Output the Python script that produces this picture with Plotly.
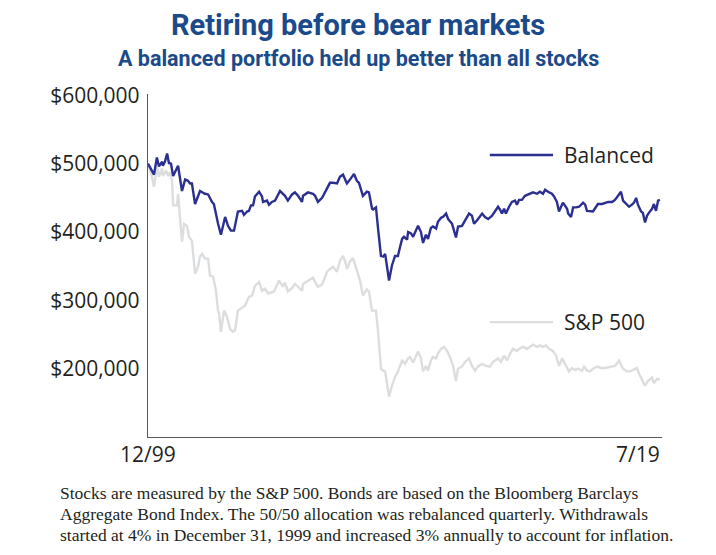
import plotly.graph_objects as go

# ---- data (time in decimal years, value in dollars) ----
bal_years = [1999.92, 2000.07, 2000.15, 2000.26, 2000.34, 2000.46, 2000.49, 2000.57, 2000.65, 2000.72,
             2000.80, 2000.88, 2001.07, 2001.22, 2001.34, 2001.45, 2001.53, 2001.60, 2001.72, 2001.91,
             2002.10, 2002.22, 2002.29, 2002.37, 2002.44, 2002.56, 2002.60, 2002.71, 2002.87, 2002.98,
             2003.09, 2003.21, 2003.36, 2003.52, 2003.59, 2003.71, 2003.78, 2003.86, 2003.94, 2004.01,
             2004.17, 2004.28, 2004.32, 2004.47, 2004.55, 2004.66, 2004.78, 2004.97, 2005.08, 2005.16,
             2005.27, 2005.43, 2005.54, 2005.66, 2005.81, 2005.85, 2006.04, 2006.23, 2006.31, 2006.42,
             2006.58, 2006.77, 2006.88, 2007.00, 2007.15, 2007.26, 2007.38, 2007.46, 2007.53, 2007.65,
             2007.80, 2007.91, 2007.99, 2008.14, 2008.29, 2008.37, 2008.49, 2008.53, 2008.64, 2008.72,
             2008.83, 2008.91, 2008.99, 2009.14, 2009.25, 2009.37, 2009.48, 2009.56, 2009.64, 2009.71,
             2009.83, 2009.87, 2009.98, 2010.06, 2010.25, 2010.36, 2010.44, 2010.55, 2010.63, 2010.74,
             2010.82, 2010.94, 2011.01, 2011.13, 2011.20, 2011.32, 2011.40, 2011.55, 2011.62, 2011.70,
             2011.78, 2011.93, 2012.05, 2012.20, 2012.31, 2012.39, 2012.50, 2012.62, 2012.70, 2012.81,
             2012.93, 2013.08, 2013.19, 2013.31, 2013.38, 2013.46, 2013.54, 2013.61, 2013.73, 2013.84,
             2013.96, 2014.03, 2014.11, 2014.22, 2014.34, 2014.45, 2014.53, 2014.65, 2014.80, 2014.91,
             2015.03, 2015.11, 2015.22, 2015.37, 2015.45, 2015.56, 2015.64, 2015.76, 2015.79, 2015.95,
             2015.99, 2016.10, 2016.18, 2016.29, 2016.41, 2016.56, 2016.64, 2016.71, 2016.83, 2016.94,
             2017.06, 2017.13, 2017.29, 2017.40, 2017.52, 2017.67, 2017.78, 2017.90, 2018.01, 2018.09,
             2018.24, 2018.32, 2018.43, 2018.51, 2018.59, 2018.66, 2018.78, 2018.85, 2018.93, 2019.01,
             2019.08, 2019.20, 2019.27, 2019.35, 2019.43, 2019.50]
bal_values_k = [500, 488, 484, 509, 496, 503, 497, 503, 515, 501,
                500, 482, 497, 460, 477, 475, 471, 471, 441, 460,
                456, 455, 449, 444, 441, 415, 412, 396, 422, 409,
                402, 402, 430, 431, 425, 430, 431, 439, 439, 452,
                459, 452, 444, 446, 440, 444, 446, 460, 456, 453,
                446, 455, 458, 453, 444, 453, 458, 456, 453, 444,
                450, 465, 472, 472, 471, 481, 484, 477, 471, 477,
                485, 475, 472, 453, 459, 458, 434, 433, 436, 405,
                365, 364, 368, 329, 351, 365, 365, 378, 390, 393,
                389, 400, 398, 393, 409, 400, 384, 396, 390, 406,
                408, 405, 415, 421, 422, 427, 419, 412, 402, 392,
                408, 409, 417, 427, 424, 412, 417, 424, 427, 422,
                419, 424, 431, 437, 433, 427, 434, 427, 437, 444,
                446, 440, 447, 447, 453, 455, 456, 458, 456, 459,
                456, 462, 459, 456, 452, 444, 430, 441, 443, 434,
                427, 422, 436, 436, 437, 443, 440, 431, 430, 430,
                437, 441, 441, 443, 444, 444, 447, 453, 459, 446,
                439, 437, 440, 443, 450, 440, 430, 428, 414, 424,
                428, 434, 441, 431, 446, 447]

sp_years = [1999.92, 2000.07, 2000.15, 2000.26, 2000.34, 2000.46, 2000.49, 2000.61, 2000.69, 2000.76,
            2000.84, 2000.88, 2001.03, 2001.07, 2001.22, 2001.30, 2001.41, 2001.49, 2001.60, 2001.72,
            2001.83, 2001.91, 2001.99, 2002.10, 2002.22, 2002.29, 2002.41, 2002.52, 2002.60, 2002.64,
            2002.71, 2002.83, 2002.94, 2003.06, 2003.17, 2003.25, 2003.36, 2003.52, 2003.63, 2003.78,
            2003.90, 2004.01, 2004.17, 2004.28, 2004.39, 2004.51, 2004.62, 2004.74, 2004.93, 2005.08,
            2005.16, 2005.27, 2005.43, 2005.54, 2005.66, 2005.81, 2005.85, 2006.04, 2006.23, 2006.31,
            2006.42, 2006.58, 2006.77, 2006.88, 2007.00, 2007.15, 2007.26, 2007.38, 2007.46, 2007.53,
            2007.65, 2007.76, 2007.91, 2008.03, 2008.14, 2008.29, 2008.37, 2008.49, 2008.64, 2008.72,
            2008.83, 2008.91, 2008.99, 2009.14, 2009.25, 2009.37, 2009.48, 2009.56, 2009.64, 2009.75,
            2009.87, 2009.94, 2010.06, 2010.25, 2010.36, 2010.44, 2010.55, 2010.63, 2010.74, 2010.82,
            2010.94, 2011.01, 2011.13, 2011.24, 2011.36, 2011.47, 2011.59, 2011.70, 2011.78, 2011.93,
            2012.05, 2012.20, 2012.31, 2012.43, 2012.54, 2012.70, 2012.85, 2013.00, 2013.12, 2013.31,
            2013.42, 2013.54, 2013.65, 2013.77, 2013.88, 2014.03, 2014.11, 2014.26, 2014.42, 2014.53,
            2014.65, 2014.80, 2014.91, 2015.03, 2015.14, 2015.26, 2015.41, 2015.53, 2015.64, 2015.76,
            2015.83, 2015.95, 2016.02, 2016.14, 2016.25, 2016.37, 2016.52, 2016.60, 2016.71, 2016.83,
            2016.94, 2017.09, 2017.25, 2017.40, 2017.59, 2017.78, 2017.94, 2018.09, 2018.24, 2018.36,
            2018.47, 2018.62, 2018.70, 2018.81, 2018.93, 2019.04, 2019.20, 2019.27, 2019.39, 2019.50]
sp_values_k = [500, 481, 466, 496, 481, 493, 482, 490, 482, 488,
               475, 439, 439, 456, 386, 412, 409, 393, 387, 339,
               349, 364, 368, 361, 361, 336, 335, 314, 285, 280,
               254, 285, 276, 258, 254, 256, 285, 289, 292, 305,
               307, 321, 327, 314, 317, 310, 311, 313, 329, 320,
               326, 313, 318, 324, 320, 314, 324, 329, 333, 327,
               320, 323, 342, 346, 349, 342, 358, 365, 357, 346,
               357, 362, 343, 329, 307, 316, 313, 285, 285, 254,
               200, 197, 196, 159, 175, 188, 196, 204, 212, 207,
               215, 217, 209, 225, 215, 196, 204, 197, 212, 217,
               215, 222, 229, 232, 226, 217, 204, 182, 200, 203,
               210, 215, 204, 197, 203, 207, 204, 203, 210, 215,
               210, 219, 212, 222, 229, 226, 229, 232, 229, 232,
               235, 232, 234, 232, 234, 229, 226, 219, 204, 215,
               210, 203, 196, 201, 198, 200, 197, 203, 197, 196,
               200, 203, 201, 201, 203, 204, 212, 200, 196, 196,
               198, 201, 193, 185, 175, 182, 187, 179, 185, 184]

series_names = ["Balanced", "S&P 500"]
y_tick_values = [200000, 300000, 400000, 500000, 600000]
y_tick_labels = ["$200,000", "$300,000", "$400,000", "$500,000", "$600,000"]
x_tick_years = [1999.92, 2019.58]
x_tick_labels = ["12/99", "7/19"]

title_text = "Retiring before bear markets"
subtitle_text = "A balanced portfolio held up better than all stocks"
footnote_lines = [
    "Stocks are measured by the S&P 500. Bonds are based on the Bloomberg Barclays",
    "Aggregate Bond Index. The 50/50 allocation was rebalanced quarterly. Withdrawals",
    "started at 4% in December 31, 1999 and increased 3% annually to account for inflation.",
]

# ---- styles ----
NAVY = "#2b2f8f"
GRAY = "#dcdddf"
TITLE_BLUE = "#1b4a8a"
TEXT = "#231f20"
AXIS = "#595959"
SANS = "Open Sans"

bal_values = [v * 1000 for v in bal_values_k]
sp_values = [v * 1000 for v in sp_values_k]

fig = go.Figure()
fig.add_trace(go.Scatter(x=sp_years, y=sp_values, mode="lines", name=series_names[1],
                         line=dict(color=GRAY, width=2.4), showlegend=False))
fig.add_trace(go.Scatter(x=bal_years, y=bal_values, mode="lines", name=series_names[0],
                         line=dict(color=NAVY, width=2.4), showlegend=False))

# legend keys (line samples + labels) placed like the reference
legend_spec = [(series_names[0], NAVY, 0.822), (series_names[1], GRAY, 0.335)]
for name, color, ypos in legend_spec:
    fig.add_shape(type="line", xref="paper", yref="paper", x0=0.665, x1=0.788,
                  y0=ypos, y1=ypos, line=dict(color=color, width=2.4))
    fig.add_annotation(text=name, xref="paper", yref="paper", x=0.806, y=ypos,
                       xanchor="left", yanchor="middle", showarrow=False,
                       font=dict(family=SANS, size=21, color=TEXT))

# x labels (first at start, last right-aligned to axis end)
fig.add_annotation(text=x_tick_labels[0], xref="x", yref="paper", x=x_tick_years[0], y=0,
                   xanchor="center", yanchor="top", yshift=-1, showarrow=False,
                   font=dict(family=SANS, size=21, color=TEXT))
fig.add_annotation(text=x_tick_labels[1], xref="x", yref="paper", x=x_tick_years[1], y=0,
                   xanchor="right", yanchor="top", yshift=-1, showarrow=False,
                   font=dict(family=SANS, size=21, color=TEXT))

# title and subtitle
fig.add_annotation(text="<b>" + title_text + "</b>", xref="paper", yref="paper",
                   x=0.4086, y=1.201, xanchor="center", yanchor="middle", showarrow=False,
                   font=dict(family="Roboto", size=29, color=TITLE_BLUE))
fig.add_annotation(text="<b>" + subtitle_text + "</b>", xref="paper", yref="paper",
                   x=0.4086, y=1.103, xanchor="center", yanchor="middle", showarrow=False,
                   font=dict(family="Roboto", size=21.5, color=TITLE_BLUE))

# footnote, one annotation per line for the reference's line spacing
foot_y = [-0.162, -0.225, -0.287]
for line_text, fy in zip(footnote_lines, foot_y):
    fig.add_annotation(text=line_text, xref="paper", yref="paper",
                       x=-0.175, y=fy, xanchor="left", yanchor="middle", align="left",
                       showarrow=False,
                       font=dict(family="Liberation Serif", size=17.5, color=TEXT))

fig.update_layout(
    width=716, height=555,
    margin=dict(l=140, r=62, t=86, b=126),
    paper_bgcolor="white", plot_bgcolor="white",
    showlegend=False,
)
fig.update_xaxes(range=[1999.92, 2019.58], showgrid=False, zeroline=False,
                 showline=True, linecolor=AXIS, linewidth=1.3,
                 showticklabels=False, ticks="")
fig.update_yaxes(range=[100000, 602000], showgrid=False, zeroline=False,
                 showline=True, linecolor=AXIS, linewidth=1.3, ticks="",
                 tickvals=y_tick_values, ticktext=y_tick_labels, ticklabelstandoff=3,
                 tickfont=dict(family=SANS, size=21, color=TEXT))

fig.write_html("out.html")
